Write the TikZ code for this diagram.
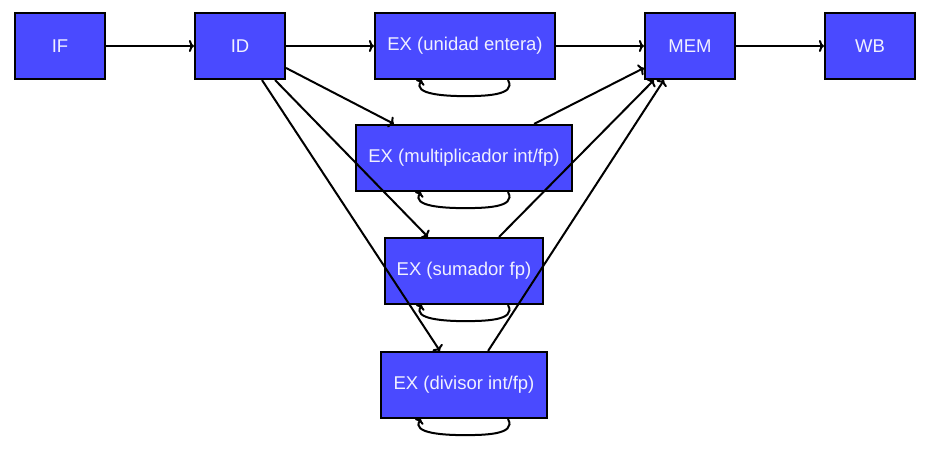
\documentclass[tikz,border=0pt]{standalone}
\usepackage{fontspec}
\setmainfont{Liberation Sans}
\usetikzlibrary{arrows.meta}
\definecolor{boxblue}{RGB}{74,74,255}
\definecolor{txtwhite}{RGB}{240,240,255}
\begin{document}
\begin{tikzpicture}[x=1pt,y=-1pt,
  stage/.style={draw=black, line width=2.2pt, fill=boxblue, text=txtwhite,
    minimum height=66pt, inner sep=0pt, font=\fontsize{18.5}{20}\selectfont},
  conn/.style={line width=2pt, -{To[length=5pt,width=12pt]}},
  loopline/.style={line width=2pt, {To[length=4pt,width=10pt]}-}]
\useasboundingbox (0,0) rectangle (928,449);
\node[stage, minimum width=90pt] (IF) at (60,46) {IF};
\node[stage, minimum width=90pt] (ID) at (240,46) {ID};
\node[stage, minimum width=180pt] (EXE) at (465,46) {EX (unidad entera)};
\node[stage, minimum width=90pt] (MEM) at (690,46) {MEM};
\node[stage, minimum width=90pt] (WB) at (870,46) {WB};
\node[stage, minimum width=216pt] (MUL) at (464,158) {EX (multiplicador int/fp)};
\node[stage, minimum width=158pt] (SUM) at (464,271) {EX (sumador fp)};
\node[stage, minimum width=166pt] (DIV) at (464,385) {EX (divisor int/fp)};
% loops
\draw[loopline] ([xshift=-43pt]EXE.south) to[out=-125,in=180] ++(42,16) to[out=0,in=-60] ([xshift=43pt]EXE.south);
\draw[loopline] ([xshift=-43pt]MUL.south) to[out=-125,in=180] ++(42,16) to[out=0,in=-60] ([xshift=44pt]MUL.south);
\draw[loopline] ([xshift=-42pt]SUM.south) to[out=-125,in=180] ++(41,16) to[out=0,in=-60] ([xshift=44pt]SUM.south);
\draw[loopline] ([xshift=-43pt]DIV.south) to[out=-125,in=180] ++(42,16) to[out=0,in=-60] ([xshift=44pt]DIV.south);
% main flow
\draw[conn] (IF.east) -- (ID.west);
\draw[conn] (ID.east) -- (EXE.west);
\draw[conn] (EXE.east) -- (MEM.west);
\draw[conn] (MEM.east) -- (WB.west);
% ID to units
\draw[conn] ([yshift=-22pt]ID.east) -- ([xshift=39pt]MUL.north west);
\draw[conn] ([xshift=-11pt]ID.south east) -- ([xshift=44pt]SUM.north west);
\draw[conn] ([xshift=22pt]ID.south) -- ([xshift=60pt]DIV.north west);
% units to MEM
\draw[conn] ([xshift=-39pt]MUL.north east) -- ([yshift=-22pt]MEM.west);
\draw[conn] ([xshift=-45pt]SUM.north east) -- ([xshift=10pt]MEM.south west);
\draw[conn] ([xshift=-60pt]DIV.north east) -- ([xshift=20pt]MEM.south west);
\end{tikzpicture}
\end{document}
